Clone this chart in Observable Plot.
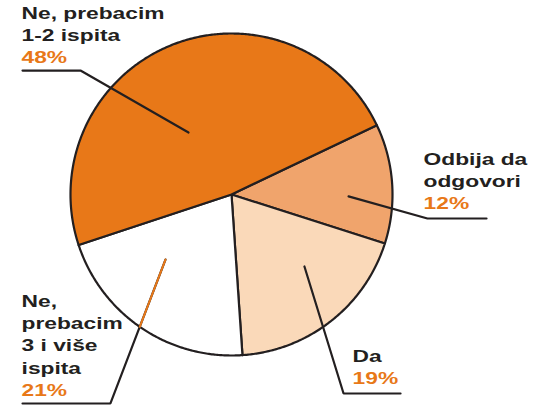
<!DOCTYPE html>
<html>
<head>
<meta charset="utf-8">
<script src="https://cdn.jsdelivr.net/npm/d3@7"></script>
<script src="https://cdn.jsdelivr.net/npm/@observablehq/plot@0.6"></script>
<style>
  html, body { margin: 0; padding: 0; background: #fff; }
  svg { display: block; }
  #meta { position: absolute; left: -9999px; top: 0; font: 9px monospace; white-space: pre; }
</style>
</head>
<body>
<div id="chart"></div>
<div id="meta"></div>
<script>
// ---- data ----
const categories = ["Odbija da\nodgovori", "Da", "Ne,\nprebacim\n3 i više\nispita", "Ne, prebacim\n1-2 ispita"];
const values = [12, 19, 21, 48];
const percentLabels = ["12%", "19%", "21%", "48%"];
const sliceColors = ["#F0A46C", "#FAD9B9", "#FFFFFF", "#E87818"];

// ---- layout (pie units: centre 0,0, radius 1, y up) ----
const startDeg = 64.5;
const cx = 231, cy = 194, R = 161, W = 539, H = 405;
const ink = "#231F20", orange = "#E87818";

const arcs = d3.pie().sort(null)
  .startAngle(startDeg * Math.PI / 180)
  .endAngle(startDeg * Math.PI / 180 + 2 * Math.PI)(values);

function slicePoly(a) {
  const pts = [{x: 0, y: 0}];
  const n = Math.max(2, Math.ceil((a.endAngle - a.startAngle) / (Math.PI / 360)));
  for (let i = 0; i <= n; i++) {
    const t = a.startAngle + (a.endAngle - a.startAngle) * i / n;
    pts.push({x: Math.sin(t), y: Math.cos(t)});
  }
  pts.push({x: 0, y: 0});
  return pts;
}

// leader lines and label anchors in pie units
const leaders = [
  [{x: 0.727, y: -0.012}, {x: 1.217, y: -0.149}, {x: 1.584, y: -0.149}],
  [{x: 0.453, y: -0.447}, {x: 0.696, y: -1.236}, {x: 1.050, y: -1.236}],
  [{x: -0.410, y: -0.404}, {x: -0.752, y: -1.298}, {x: -1.298, y: -1.298}],
  [{x: -0.267, y: 0.385}, {x: -0.938, y: 0.770}, {x: -1.298, y: 0.770}]
];
const labelAnchors = [
  {x: 1.193, y: -0.093},
  {x: 0.752, y: -1.174},
  {x: -1.304, y: -1.249},
  {x: -1.304, y: 0.814}
];
const labels = categories.map((c, i) => ({name: c, pct: percentLabels[i], ...labelAnchors[i]}));

// orange segment of the leader inside the white slice (up to the rim)
const p0 = leaders[2][0], p1 = leaders[2][1];
const dxl = p1.x - p0.x, dyl = p1.y - p0.y;
const qa = dxl * dxl + dyl * dyl, qb = 2 * (p0.x * dxl + p0.y * dyl), qc = p0.x * p0.x + p0.y * p0.y - 1;
const tHit = (-qb + Math.sqrt(qb * qb - 4 * qa * qc)) / (2 * qa);
const orangeSeg = [p0, {x: p0.x + tHit * dxl, y: p0.y + tHit * dyl}];

const marks = [];
arcs.forEach((a, i) => {
  marks.push(Plot.line(slicePoly(a), {
    x: "x", y: "y", fill: sliceColors[i], stroke: ink, strokeWidth: 2.2,
    strokeLinejoin: "round", curve: "linear"
  }));
});
leaders.forEach(l => {
  marks.push(Plot.line(l, {x: "x", y: "y", stroke: ink, strokeWidth: 2.2, strokeLinejoin: "miter"}));
});
marks.push(Plot.line(orangeSeg, {x: "x", y: "y", stroke: orange, strokeWidth: 2}));
marks.push(Plot.text(labels, {
  x: "x", y: "y", text: "name", textAnchor: "start", lineAnchor: "bottom",
  dy: -22, lineHeight: 1.3, fontSize: 17, fontWeight: "bold", fill: ink,
  fontFamily: "Liberation Sans, Arial, sans-serif"
}));
marks.push(Plot.text(labels, {
  x: "x", y: "y", text: "pct", textAnchor: "start", lineAnchor: "bottom",
  fontSize: 17, fontWeight: "bold", fill: orange,
  fontFamily: "Liberation Sans, Arial, sans-serif"
}));

const chart = Plot.plot({
  width: W, height: H, margin: 0,
  x: {domain: [-cx / R, (W - cx) / R], axis: null},
  y: {domain: [-(H - cy) / R, cy / R], axis: null},
  style: {background: "#fff", overflow: "visible"},
  marks
});

// the reference lettering is horizontally widened
chart.querySelectorAll("text").forEach(t => {
  const tr = t.getAttribute("transform");
  if (tr) t.setAttribute("transform", tr + " scale(1.34,1)");
});

document.getElementById("chart").appendChild(chart);
const out = [];
chart.querySelectorAll("tspan, text").forEach(t => {
  const r = t.getBoundingClientRect();
  out.push(`${r.left.toFixed(0)}-${r.right.toFixed(0)}`);
});
document.getElementById("meta").textContent = out.join("\n");
</script>
</body>
</html>
